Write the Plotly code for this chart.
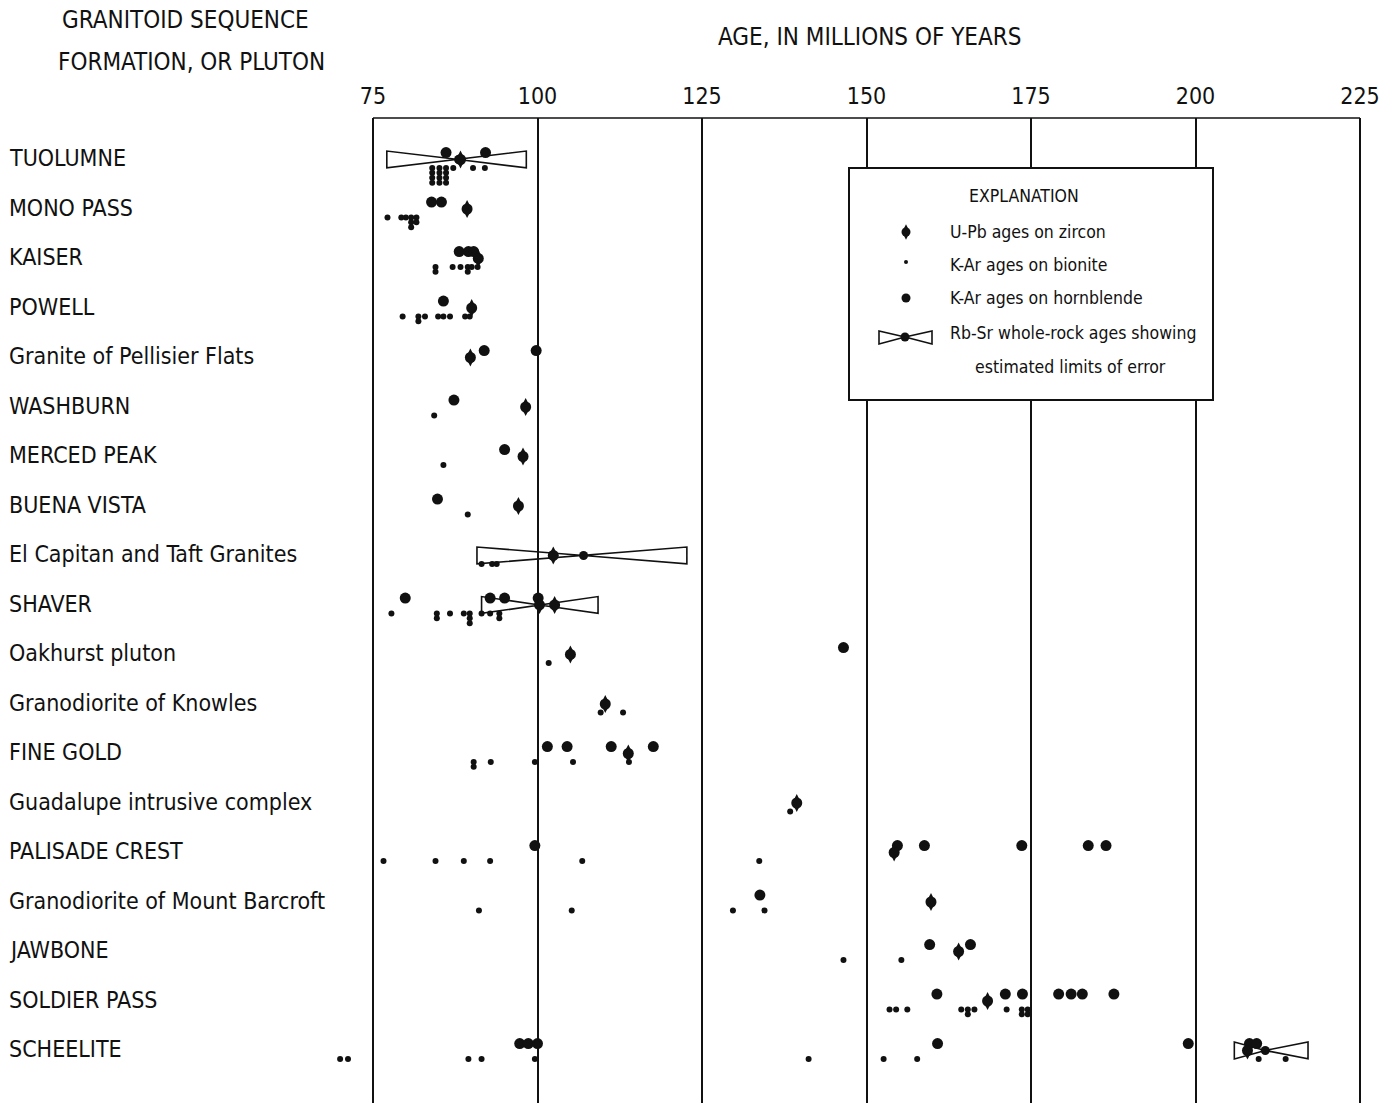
import plotly.graph_objects as go
from collections import Counter

# ---------------- data ----------------
rows = ["TUOLUMNE", "MONO PASS", "KAISER", "POWELL", "Granite of Pellisier Flats",
        "WASHBURN", "MERCED PEAK", "BUENA VISTA", "El Capitan and Taft Granites",
        "SHAVER", "Oakhurst pluton", "Granodiorite of Knowles", "FINE GOLD",
        "Guadalupe intrusive complex", "PALISADE CREST", "Granodiorite of Mount Barcroft",
        "JAWBONE", "SOLDIER PASS", "SCHEELITE"]

age_ticks = [75, 100, 125, 150, 175, 200, 225]

# U-Pb ages on zircon (Ma)
zircon = {
    "TUOLUMNE": [88.3], "MONO PASS": [89.3], "KAISER": [91.0], "POWELL": [90.0],
    "Granite of Pellisier Flats": [89.8], "WASHBURN": [98.2], "MERCED PEAK": [97.8],
    "BUENA VISTA": [97.1], "El Capitan and Taft Granites": [102.4],
    "SHAVER": [100.3, 102.6], "Oakhurst pluton": [105.0],
    "Granodiorite of Knowles": [110.3], "FINE GOLD": [113.8],
    "Guadalupe intrusive complex": [139.4], "PALISADE CREST": [154.2],
    "Granodiorite of Mount Barcroft": [159.8], "JAWBONE": [164.0],
    "SOLDIER PASS": [168.4], "SCHEELITE": [207.9],
}

# K-Ar ages on hornblende (Ma)
hornblende = {
    "TUOLUMNE": [86.1, 92.1], "MONO PASS": [83.9, 85.4], "KAISER": [88.1, 89.5, 90.3],
    "POWELL": [85.7], "Granite of Pellisier Flats": [91.9, 99.8], "WASHBURN": [87.3],
    "MERCED PEAK": [95.0], "BUENA VISTA": [84.8],
    "SHAVER": [79.9, 92.8, 95.0, 100.1], "Oakhurst pluton": [146.5],
    "FINE GOLD": [101.5, 104.5, 111.2, 117.6],
    "PALISADE CREST": [99.6, 154.7, 158.8, 173.6, 183.7, 186.4],
    "Granodiorite of Mount Barcroft": [133.8], "JAWBONE": [159.6, 165.8],
    "SOLDIER PASS": [160.7, 171.1, 173.7, 179.2, 181.1, 182.8, 187.6],
    "SCHEELITE": [97.3, 98.6, 100.0, 160.8, 198.9, 208.2, 209.3],
}

# K-Ar ages on biotite (Ma); repeated values are stacked
biotite = {
    "TUOLUMNE": [84.0, 84.0, 84.0, 84.0, 85.1, 85.1, 85.1, 85.1, 86.1, 86.1, 86.1, 86.1,
                 87.2, 90.2, 92.0],
    "MONO PASS": [77.2, 79.3, 80.0, 80.8, 80.8, 80.8, 81.6, 81.6],
    "KAISER": [84.5, 84.5, 87.1, 88.3, 89.4, 89.4, 90.0, 90.9],
    "POWELL": [79.5, 81.9, 81.9, 82.9, 84.9, 85.7, 86.7, 89.0, 89.7],
    "WASHBURN": [84.3], "MERCED PEAK": [85.7], "BUENA VISTA": [89.4],
    "El Capitan and Taft Granites": [91.5, 93.1, 93.8],
    "SHAVER": [77.8, 84.7, 84.7, 86.7, 88.8, 89.7, 89.7, 89.7, 91.5, 92.8, 94.2, 94.2],
    "Oakhurst pluton": [101.7], "Granodiorite of Knowles": [109.6, 113.0],
    "FINE GOLD": [90.3, 90.3, 92.9, 99.6, 105.4, 113.9],
    "Guadalupe intrusive complex": [138.4],
    "PALISADE CREST": [76.6, 84.5, 88.8, 92.8, 106.8, 133.7],
    "Granodiorite of Mount Barcroft": [91.1, 105.2, 129.7, 134.5],
    "JAWBONE": [146.5, 155.3],
    "SOLDIER PASS": [153.5, 154.5, 156.2, 164.4, 165.4, 165.4, 166.4, 171.3,
                     173.6, 173.6, 174.5, 174.5],
    "SCHEELITE": [70.0, 71.2, 89.5, 91.5, 99.6, 141.2, 152.6, 157.7, 209.6, 213.7],
}

# Rb-Sr whole-rock ages with estimated limits of error (Ma)
rbsr_rows = ["TUOLUMNE", "El Capitan and Taft Granites", "SHAVER", "SCHEELITE"]
rbsr_age = [88.0, 107.0, 100.3, 210.6]
rbsr_low = [77.1, 90.8, 91.5, 205.9]
rbsr_high = [98.3, 122.7, 109.2, 217.1]

# ---------------- layout constants ----------------
W, H = 1397, 1103
L, R, T, B = 330, 25, 118, 0
PXW = W - L - R
PXH = H - T - B
PX_PER_MA = 6.58
ROW_PX = 49.5
ROW0_PX = 158
XR = [75 - (373 - L) / PX_PER_MA, 75 - (373 - L) / PX_PER_MA + PXW / PX_PER_MA]
YR = [(H - B - ROW0_PX) / ROW_PX, (T - ROW0_PX) / ROW_PX]

FONT = "DejaVu Sans Condensed, Liberation Sans Narrow, Arial Narrow, sans-serif"
INK = "#111111"

def pxx(p):
    return (p - L) / PXW

def pxy(p):
    return 1 - (p - T) / PXH

def dx(p):  # page pixel -> data x
    return XR[0] + (p - L) / PX_PER_MA

def dy(p):  # page pixel -> data y (row units)
    return (p - ROW0_PX) / ROW_PX

ridx = {name: i for i, name in enumerate(rows)}

fig = go.Figure()

# Rb-Sr bowties
BOW_H = 0.17
for name, a, lo, hi in zip(rbsr_rows, rbsr_age, rbsr_low, rbsr_high):
    r = ridx[name] + 0.03
    fig.add_trace(go.Scatter(
        x=[a, lo, lo, a, hi, hi, a],
        y=[r, r - BOW_H, r + BOW_H, r, r - BOW_H, r + BOW_H, r],
        mode="lines", line=dict(color=INK, width=1.6), fill="none",
        hoverinfo="skip", showlegend=False))
fig.add_trace(go.Scatter(
    x=rbsr_age, y=[ridx[n] + 0.03 for n in rbsr_rows], mode="markers",
    marker=dict(symbol="circle", size=9, color=INK), showlegend=False,
    name="Rb-Sr whole-rock"))

# biotite (stacked duplicates)
bx, by = [], []
for name, ages in biotite.items():
    seen = Counter()
    for a in ages:
        k = seen[a]
        seen[a] += 1
        bx.append(a)
        by.append(ridx[name] + 0.2 + 0.1 * k)
fig.add_trace(go.Scatter(x=bx, y=by, mode="markers",
                         marker=dict(symbol="circle", size=6, color=INK),
                         name="K-Ar biotite", showlegend=False))

# hornblende
hx, hy = [], []
for name, ages in hornblende.items():
    for a in ages:
        hx.append(a)
        hy.append(ridx[name] - 0.11)
fig.add_trace(go.Scatter(x=hx, y=hy, mode="markers",
                         marker=dict(symbol="circle", size=11, color=INK),
                         name="K-Ar hornblende", showlegend=False))

# zircon (lens shape: tall diamond + circle)
zx, zy = [], []
for name, ages in zircon.items():
    for a in ages:
        zx.append(a)
        zy.append(ridx[name] + 0.03)
fig.add_trace(go.Scatter(x=zx, y=zy, mode="markers",
                         marker=dict(symbol="diamond-tall", size=13, color=INK,
                                     line=dict(width=0)),
                         name="U-Pb zircon", showlegend=False))
fig.add_trace(go.Scatter(x=zx, y=zy, mode="markers",
                         marker=dict(symbol="circle", size=11, color=INK),
                         hoverinfo="skip", showlegend=False))

# ---------------- explanation box ----------------
fig.add_shape(type="rect", xref="x", yref="y",
              x0=dx(849), x1=dx(1213), y0=dy(168), y1=dy(400),
              line=dict(color=INK, width=2), fillcolor="white", layer="between")

lx = 906
fig.add_trace(go.Scatter(x=[lx], y=[232], xaxis="x2", yaxis="y2", mode="markers",
                         marker=dict(symbol="diamond-tall", size=11, color=INK),
                         hoverinfo="skip", showlegend=False))
fig.add_trace(go.Scatter(x=[lx], y=[232], xaxis="x2", yaxis="y2", mode="markers",
                         marker=dict(symbol="circle", size=9, color=INK),
                         hoverinfo="skip", showlegend=False))
fig.add_trace(go.Scatter(x=[lx], y=[262], xaxis="x2", yaxis="y2", mode="markers",
                         marker=dict(symbol="circle", size=4, color=INK),
                         hoverinfo="skip", showlegend=False))
fig.add_trace(go.Scatter(x=[lx], y=[298], xaxis="x2", yaxis="y2", mode="markers",
                         marker=dict(symbol="circle", size=9, color=INK),
                         hoverinfo="skip", showlegend=False))
fig.add_trace(go.Scatter(x=[905, 879, 879, 905, 932, 932, 905],
                         y=[337, 331, 344, 337, 331, 344, 337],
                         xaxis="x2", yaxis="y2", mode="lines",
                         line=dict(color=INK, width=1.6),
                         hoverinfo="skip", showlegend=False))
fig.add_trace(go.Scatter(x=[905], y=[337], xaxis="x2", yaxis="y2", mode="markers",
                         marker=dict(symbol="circle", size=9, color=INK),
                         hoverinfo="skip", showlegend=False))

annotations = []
def txt(text, x, y, size, anchor="left"):
    annotations.append(dict(text=text, x=pxx(x), y=pxy(y), xref="paper", yref="paper",
                            xanchor=anchor, yanchor="middle", showarrow=False,
                            font=dict(family=FONT, size=size, color=INK)))

txt("EXPLANATION", 1024, 196, 17.5, "center")
txt("U-Pb ages on zircon", 948, 232, 17.5)
txt("K-Ar ages on bionite", 948, 265, 17.5)
txt("K-Ar ages on hornblende", 948, 298, 17.5)
txt("Rb-Sr whole-rock ages showing", 948, 333, 17.5)
txt("estimated limits of error", 973, 367, 17.5)

# headings
txt("GRANITOID SEQUENCE", 185, 20, 24, "center")
txt("FORMATION, OR PLUTON", 191, 62, 24, "center")
txt("AGE, IN MILLIONS OF YEARS", 869, 37, 24, "center")

# row labels
for i, name in enumerate(rows):
    annotations.append(dict(text=name, x=pxx(7), y=i, xref="paper", yref="y",
                            xanchor="left", yanchor="middle", showarrow=False,
                            font=dict(family=FONT, size=23, color=INK)))

# top border of the frame
fig.add_shape(type="line", xref="x", yref="paper", x0=age_ticks[0], x1=age_ticks[-1],
              y0=1, y1=1, line=dict(color=INK, width=1.6))

fig.update_layout(
    width=W, height=H, margin=dict(l=L, r=R, t=T, b=B, pad=0),
    paper_bgcolor="white", plot_bgcolor="white",
    font=dict(family=FONT, color=INK),
    annotations=annotations, showlegend=False,
    xaxis=dict(range=XR, side="top", tickvals=age_ticks,
               ticktext=[str(t) for t in age_ticks],
               showgrid=True, gridcolor=INK, gridwidth=1.6, zeroline=False,
               showline=False, ticks="", ticklabelstandoff=8,
               tickfont=dict(family=FONT, size=23, color=INK), fixedrange=True),
    yaxis=dict(range=YR, visible=False, showgrid=False, zeroline=False, fixedrange=True),
    xaxis2=dict(range=[L, W - R], overlaying="x", visible=False, anchor="y2"),
    yaxis2=dict(range=[H - B, T], overlaying="y", visible=False, anchor="x2"),
)

fig.write_html("out.html",
               config={"displayModeBar": False},
               post_script="document.body.style.margin='0';"
                           "document.body.style.overflow='hidden';")
